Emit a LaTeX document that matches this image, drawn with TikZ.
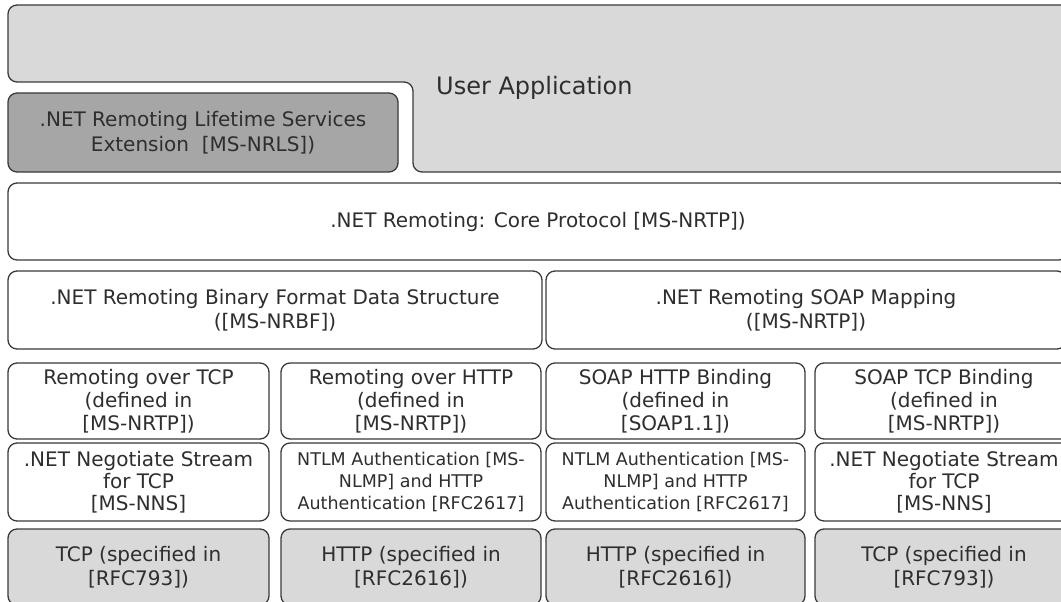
\documentclass[tikz,border=0pt]{standalone}
\usepackage{fontspec}
\setmainfont{DejaVu Sans}
\definecolor{linec}{HTML}{3A3A3A}
\definecolor{textc}{HTML}{2E2E2E}
\definecolor{lightg}{HTML}{D9D9D9}
\definecolor{darkg}{HTML}{A6A6A6}
\tikzset{
  box/.style={draw=linec, line width=1.3pt, rounded corners=9pt, fill=white,
    inner sep=0pt, align=center, text=textc,
    font=\fontsize{20}{23}\selectfont},
  small/.style={font=\fontsize{17.5}{22}\selectfont},
  graybox/.style={box, fill=lightg},
}
\begin{document}
\begin{tikzpicture}[x=1pt,y=-1pt]
\useasboundingbox (0,0) rectangle (1061,602);
\clip (0,0) rectangle (1061,602);
% User Application
\draw[draw=linec, line width=1.3pt, fill=lightg, rounded corners=9pt]
  (8,5) -- (1085,5) -- (1085,172) -- (413,172) -- (413,82) -- (8,82) -- cycle;
\node[anchor=west, text=textc, font=\fontsize{24}{28}\selectfont, inner sep=0pt] (ua) at (436,88) {User Application};
% Lifetime
\node[box, fill=darkg, minimum width=390pt, minimum height=79pt, font=\fontsize{20}{24.5}\selectfont] (life) at (203,132.5)
  {.NET Remoting Lifetime Services\\Extension\ \ {[}MS-NRLS])};
% Core
\node[box, minimum width=1060pt, minimum height=77pt] (core) at (538,221.5)
  {.NET Remoting: Core Protocol [MS-NRTP])};
% Row 3
\node[box, minimum width=534pt, minimum height=78pt, font=\fontsize{20}{24}\selectfont] (nrbf) at (275,310)
  {.NET Remoting Binary Format Data Structure\\([MS-NRBF])};
\node[box, minimum width=520pt, minimum height=78pt, font=\fontsize{20}{24}\selectfont] (soap) at (806,310)
  {.NET Remoting SOAP Mapping\\([MS-NRTP])};
% Row 4
\node[box, minimum width=261pt, minimum height=76pt] (rtcp) at (138.5,401)
  {Remoting over TCP\\(defined in\\{[}MS-NRTP])};
\node[box, minimum width=260pt, minimum height=76pt] (rhttp) at (411,401)
  {Remoting over HTTP\\(defined in\\{[}MS-NRTP])};
\node[box, minimum width=259pt, minimum height=76pt] (shttp) at (675.5,401)
  {SOAP HTTP Binding\\(defined in\\{[}SOAP1.1])};
\node[box, minimum width=258pt, minimum height=76pt] (stcp) at (944,401)
  {SOAP TCP Binding\\(defined in\\{[}MS-NRTP])};
% Row 5
\node[box, minimum width=261pt, minimum height=78pt, font=\fontsize{20}{22}\selectfont] (nns1) at (138.5,482)
  {.NET Negotiate Stream\\for TCP\\{[}MS-NNS]};
\node[box, small, minimum width=260pt, minimum height=78pt] (ntlm1) at (411,482)
  {NTLM Authentication [MS-\\NLMP] and HTTP\\Authentication [RFC2617]};
\node[box, small, minimum width=259pt, minimum height=78pt] (ntlm2) at (675.5,482)
  {NTLM Authentication [MS-\\NLMP] and HTTP\\Authentication [RFC2617]};
\node[box, minimum width=258pt, minimum height=78pt, font=\fontsize{20}{22}\selectfont] (nns2) at (944,482)
  {.NET Negotiate Stream\\for TCP\\{[}MS-NNS]};
% Row 6
\node[graybox, minimum width=261pt, minimum height=76pt, font=\fontsize{20}{24}\selectfont] (tcp1) at (138.5,567)
  {TCP (specified in\\{[}RFC793])};
\node[graybox, minimum width=260pt, minimum height=76pt, font=\fontsize{20}{24}\selectfont] (http1) at (411,567)
  {HTTP (specified in\\{[}RFC2616])};
\node[graybox, minimum width=259pt, minimum height=76pt, font=\fontsize{20}{24}\selectfont] (http2) at (675.5,567)
  {HTTP (specified in\\{[}RFC2616])};
\node[graybox, minimum width=258pt, minimum height=76pt, font=\fontsize{20}{24}\selectfont] (tcp2) at (944,567)
  {TCP (specified in\\{[}RFC793])};
\end{tikzpicture}
\end{document}
